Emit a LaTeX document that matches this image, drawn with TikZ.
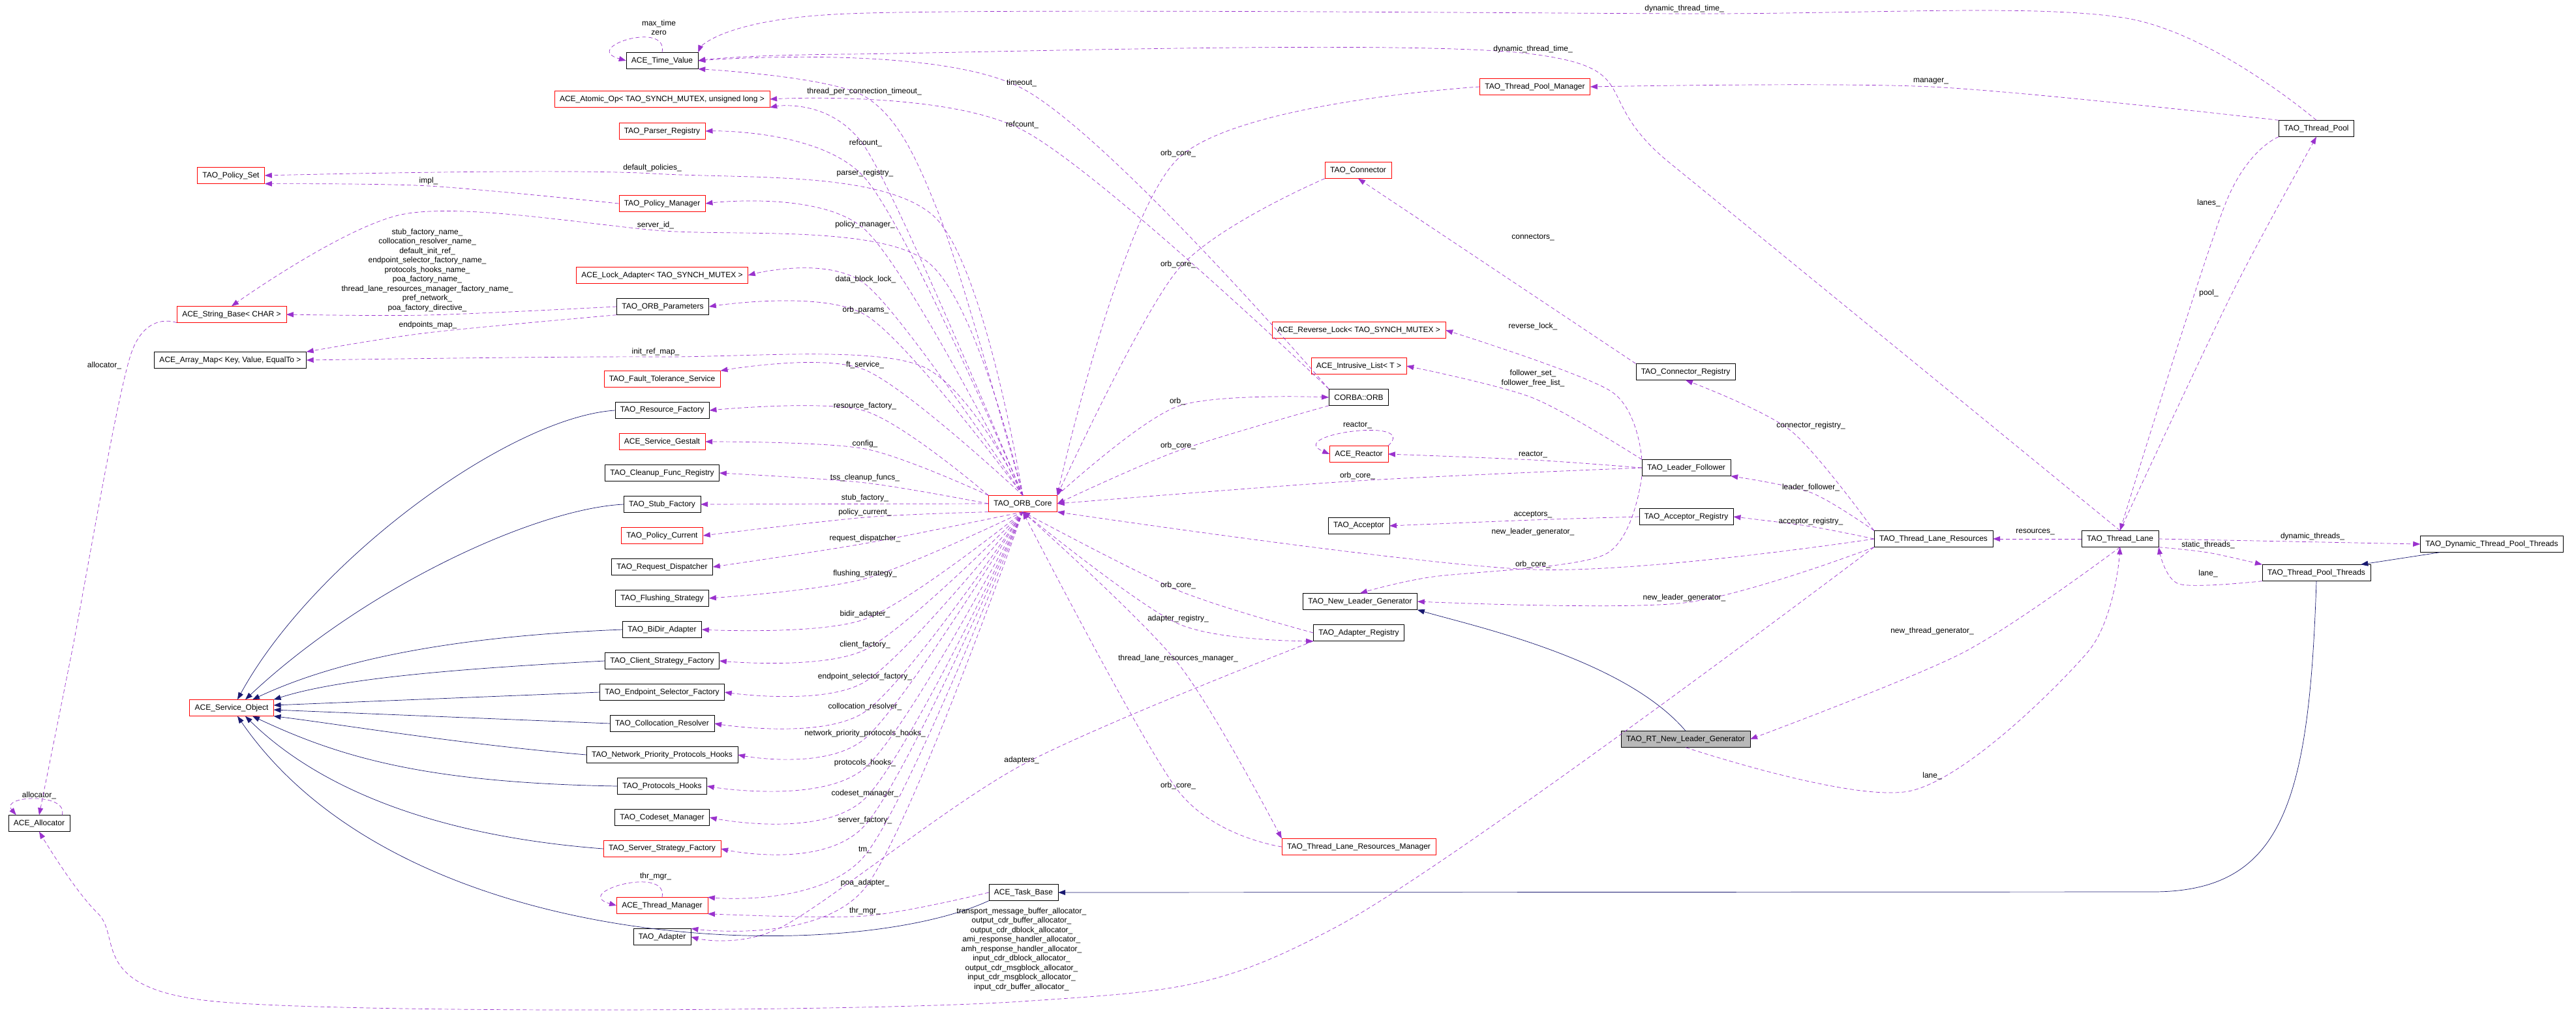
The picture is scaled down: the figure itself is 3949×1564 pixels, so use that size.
\documentclass[tikz,border=0pt]{standalone}
\usepackage{fontspec}
\setmainfont{Liberation Sans}
\usetikzlibrary{positioning,arrows.meta,calc}
\definecolor{edgepurple}{RGB}{154,50,205}
\definecolor{inhnavy}{RGB}{25,25,112}

\begin{document}
\begin{tikzpicture}[
      x=1pt, y=-1pt,
      font=\fontsize{12}{14}\selectfont
    ]

    \tikzstyle{cls} = [rectangle, draw=black, fill=white, minimum height=25pt, inner xsep=8pt, inner ysep=2pt]
    \tikzstyle{redcls} = [cls, draw=red]
    \tikzstyle{maincls} = [cls, fill=gray!55]
    \tikzstyle{mem} = [densely dashed, dash pattern=on 6pt off 4pt, edgepurple, line width=0.7pt, -{Triangle[length=11pt,width=8pt]}]
    \tikzstyle{inh} = [inhnavy, line width=0.7pt, -{Triangle[length=11pt,width=8pt]}]
    \tikzstyle{lbl} = [inner sep=0pt, align=center, font=\fontsize{12}{14.5}\selectfont]

    \useasboundingbox (0,0) rectangle (3949,1564);

    % left column
    \node [redcls] (polset) at (354,269) {TAO\_Policy\_Set};
    \node [redcls] (strbase) at (355,482) {ACE\_String\_Base< CHAR >};
    \node [cls] (arrmap) at (353,552) {ACE\_Array\_Map< Key, Value, EqualTo >};
    \node [redcls] (svcobj) at (355,1085) {ACE\_Service\_Object};
    \node [cls] (alloc) at (60,1262) {ACE\_Allocator};

    % members of the ORB core
    \node [cls] (tv) at (1015,93) {ACE\_Time\_Value};
    \node [redcls] (atomic) at (1015,152) {ACE\_Atomic\_Op< TAO\_SYNCH\_MUTEX, unsigned long >};
    \node [redcls] (parser) at (1015,201) {TAO\_Parser\_Registry};
    \node [redcls] (polmgr) at (1015,312) {TAO\_Policy\_Manager};
    \node [redcls] (lockad) at (1015,422) {ACE\_Lock\_Adapter< TAO\_SYNCH\_MUTEX >};
    \node [cls] (orbparams) at (1016,470) {TAO\_ORB\_Parameters};
    \node [redcls] (ftserv) at (1015,581) {TAO\_Fault\_Tolerance\_Service};
    \node [cls] (resfac) at (1015,629) {TAO\_Resource\_Factory};
    \node [redcls] (gestalt) at (1015,677) {ACE\_Service\_Gestalt};
    \node [cls] (cleanup) at (1015,725) {TAO\_Cleanup\_Func\_Registry};
    \node [cls] (stubfac) at (1015,773) {TAO\_Stub\_Factory};
    \node [redcls] (polcur) at (1015,821) {TAO\_Policy\_Current};
    \node [cls] (reqdisp) at (1015,869) {TAO\_Request\_Dispatcher};
    \node [cls] (flush) at (1015,917) {TAO\_Flushing\_Strategy};
    \node [cls] (bidir) at (1015,965) {TAO\_BiDir\_Adapter};
    \node [cls] (clientfac) at (1015,1013) {TAO\_Client\_Strategy\_Factory};
    \node [cls] (endpoint) at (1015,1061) {TAO\_Endpoint\_Selector\_Factory};
    \node [cls] (colloc) at (1015,1109) {TAO\_Collocation\_Resolver};
    \node [cls] (netprio) at (1015,1157) {TAO\_Network\_Priority\_Protocols\_Hooks};
    \node [cls] (prothooks) at (1015,1205) {TAO\_Protocols\_Hooks};
    \node [cls] (codeset) at (1015,1253) {TAO\_Codeset\_Manager};
    \node [redcls] (serverfac) at (1015,1301) {TAO\_Server\_Strategy\_Factory};
    \node [redcls] (thrmgr) at (1015,1388) {ACE\_Thread\_Manager};
    \node [cls] (adapter) at (1015,1436) {TAO\_Adapter};

    \node [redcls] (orbcore) at (1568,772) {TAO\_ORB\_Core};
    \node [cls] (taskbase) at (1569,1368) {ACE\_Task\_Base};

    % right half
    \node [redcls] (tpmgr) at (2353,133) {TAO\_Thread\_Pool\_Manager};
    \node [cls] (tpool) at (3551,197) {TAO\_Thread\_Pool};
    \node [redcls] (connector) at (2082,261) {TAO\_Connector};
    \node [redcls] (revlock) at (2083,506) {ACE\_Reverse\_Lock< TAO\_SYNCH\_MUTEX >};
    \node [redcls] (ilist) at (2083,561) {ACE\_Intrusive\_List< T >};
    \node [cls] (corbaorb) at (2083,609) {CORBA::ORB};
    \node [redcls] (reactor) at (2083,696) {ACE\_Reactor};
    \node [cls] (acceptor) at (2083,806) {TAO\_Acceptor};
    \node [cls] (nlg) at (2085,922) {TAO\_New\_Leader\_Generator};
    \node [cls] (adreg) at (2083,970) {TAO\_Adapter\_Registry};
    \node [redcls] (tlrm) at (2083,1298) {TAO\_Thread\_Lane\_Resources\_Manager};
    \node [cls] (connreg) at (2584,570) {TAO\_Connector\_Registry};
    \node [cls] (lf) at (2585,717) {TAO\_Leader\_Follower};
    \node [cls] (accreg) at (2585,792) {TAO\_Acceptor\_Registry};
    \node [cls] (tlr) at (2964,826) {TAO\_Thread\_Lane\_Resources};
    \node [cls] (tlane) at (3250,826) {TAO\_Thread\_Lane};
    \node [cls] (dyntpt) at (3820,834) {TAO\_Dynamic\_Thread\_Pool\_Threads};
    \node [cls] (tpt) at (3551,878) {TAO\_Thread\_Pool\_Threads};
    \node [maincls] (rtnlg) at (2584,1133) {TAO\_RT\_New\_Leader\_Generator};

    % inheritance
    \draw [inh] (resfac.west) .. controls (780,640) and (480,860) .. ($(svcobj.north)+(9,0)$);
    \draw [inh] (stubfac.west) .. controls (820,780) and (560,900) .. ($(svcobj.north)+(21,0)$);
    \draw [inh] (bidir.west) .. controls (700,975) and (520,1010) .. ($(svcobj.north)+(32,0)$);
    \draw [inh] (clientfac.west) .. controls (700,1025) and (520,1040) .. (svcobj.north east);
    \draw [inh] (endpoint.west) -- ($(svcobj.east)+(0,-4)$);
    \draw [inh] (colloc.west) -- ($(svcobj.east)+(0,3)$);
    \draw [inh] (netprio.west) .. controls (700,1140) and (520,1110) .. (svcobj.south east);
    \draw [inh] (prothooks.west) .. controls (650,1200) and (520,1160) .. ($(svcobj.south)+(32,0)$);
    \draw [inh] (serverfac.west) .. controls (650,1280) and (480,1200) .. ($(svcobj.south)+(21,0)$);
    \draw [inh] (taskbase.south west) .. controls (1300,1480) and (620,1470) .. ($(svcobj.south)+(9,0)$);
    \draw [inh] (tpt.south) .. controls (3540,1230) and (3500,1367) .. (3300,1367) -- (taskbase.east);
    \draw [inh] ($(dyntpt.south west)+(30,0)$) -- ($(tpt.north east)+(-15,0)$);
    \draw [inh] (rtnlg.north) .. controls (2490,1010) and (2260,960) .. (nlg.south east);

    % self references
    \draw [mem] (tv.north) .. controls +(10,-50) and +(-70,-20) .. (tv.west);
    \node [lbl] (tvself) at (1010,42) {max\_time\\zero};
    \draw [mem] (thrmgr.north) .. controls +(10,-50) and +(-70,-20) .. (thrmgr.west);
    \node [lbl] (thrself) at (1005,1343) {thr\_mgr\_};
    \draw [mem] (reactor.north east) .. controls +(50,-45) and +(-70,-30) .. (reactor.west);
    \node [lbl] (reactself) at (2081,652) {reactor\_};
    \draw [mem] ($(alloc.north east)+(-12,0)$) .. controls +(10,-35) and +(-25,-30) .. ($(alloc.north west)+(12,0)$);
    \node [lbl] (allocself) at (60,1219) {allocator\_};

    % ORB core members above it
    \draw [mem] plot[smooth] coordinates {(orbcore.north) (1440,330) (1326,148) (tv.south east)};
    \node [lbl] at (1325,140) {thread\_per\_connection\_timeout\_};
    \draw [mem] plot[smooth] coordinates {(orbcore.north) (1327,227) (atomic.south east)};
    \node [lbl] at (1327,219) {refcount\_};
    \draw [mem] plot[smooth] coordinates {(orbcore.north) (1326,273) (parser.east)};
    \node [lbl] at (1326,265) {parser\_registry\_};
    \draw [mem] plot[smooth] coordinates {(orbcore.north) (1430,330) (1000,266) (polset.east)};
    \node [lbl] at (1000,257) {default\_policies\_};
    \draw [mem] plot[smooth] coordinates {(orbcore.north) (1326,352) (polmgr.east)};
    \node [lbl] at (1326,344) {policy\_manager\_};
    \draw [mem] plot[smooth] coordinates {(orbcore.north) (1420,400) (1005,353) (620,328) (strbase.north)};
    \node [lbl] at (1005,345) {server\_id\_};
    \draw [mem] plot[smooth] coordinates {(orbcore.north) (1327,436) (lockad.east)};
    \node [lbl] at (1327,428) {data\_block\_lock\_};
    \draw [mem] plot[smooth] coordinates {(orbcore.north) (1327,483) (orbparams.east)};
    \node [lbl] at (1327,475) {orb\_params\_};
    \draw [mem] plot[smooth] coordinates {(orbcore.north) (1410,560) (1005,547) (arrmap.east)};
    \node [lbl] at (1005,539) {init\_ref\_map\_};
    \draw [mem] plot[smooth] coordinates {(orbcore.north) (1326,567) (ftserv.north east)};
    \node [lbl] at (1326,559) {ft\_service\_};
    \draw [mem] plot[smooth] coordinates {(orbcore.north west) (1326,630) (resfac.east)};
    \node [lbl] at (1326,622) {resource\_factory\_};
    \draw [mem] plot[smooth] coordinates {(orbcore.north west) (1326,688) (gestalt.east)};
    \node [lbl] at (1326,680) {config\_};
    \draw [mem] plot[smooth] coordinates {(orbcore.west) (1326,740) (cleanup.east)};
    \node [lbl] at (1326,732) {tss\_cleanup\_funcs\_};
    \draw [mem] (orbcore.west) -- (stubfac.east);
    \node [lbl] at (1326,763) {stub\_factory\_};

    % ORB core members below it
    \draw [mem] plot[smooth] coordinates {(orbcore.south west) (1326,793) (polcur.east)};
    \node [lbl] at (1326,785) {policy\_current\_};
    \draw [mem] plot[smooth] coordinates {(orbcore.south) (1326,833) (reqdisp.east)};
    \node [lbl] at (1326,825) {request\_dispatcher\_};
    \draw [mem] plot[smooth] coordinates {(orbcore.south) (1326,887) (flush.east)};
    \node [lbl] at (1326,879) {flushing\_strategy\_};
    \draw [mem] plot[smooth] coordinates {(orbcore.south) (1326,949) (bidir.east)};
    \node [lbl] at (1326,941) {bidir\_adapter\_};
    \draw [mem] plot[smooth] coordinates {(orbcore.south) (1326,996) (clientfac.east)};
    \node [lbl] at (1326,988) {client\_factory\_};
    \draw [mem] plot[smooth] coordinates {(orbcore.south) (1326,1045) (endpoint.east)};
    \node [lbl] at (1326,1037) {endpoint\_selector\_factory\_};
    \draw [mem] plot[smooth] coordinates {(orbcore.south) (1326,1091) (colloc.east)};
    \node [lbl] at (1326,1083) {collocation\_resolver\_};
    \draw [mem] plot[smooth] coordinates {(orbcore.south) (1326,1132) (netprio.east)};
    \node [lbl] at (1326,1124) {network\_priority\_protocols\_hooks\_};
    \draw [mem] plot[smooth] coordinates {(orbcore.south) (1326,1177) (prothooks.east)};
    \node [lbl] at (1326,1169) {protocols\_hooks\_};
    \draw [mem] plot[smooth] coordinates {(orbcore.south) (1326,1224) (codeset.east)};
    \node [lbl] at (1326,1216) {codeset\_manager\_};
    \draw [mem] plot[smooth] coordinates {(orbcore.south) (1326,1265) (serverfac.east)};
    \node [lbl] at (1326,1257) {server\_factory\_};
    \draw [mem] plot[smooth] coordinates {(orbcore.south) (1326,1311) (thrmgr.north east)};
    \node [lbl] at (1326,1303) {tm\_};
    \draw [mem] plot[smooth] coordinates {(orbcore.south) (1326,1361) (adapter.north east)};
    \node [lbl] at (1326,1353) {poa\_adapter\_};
    \draw [mem] plot[smooth] coordinates {(taskbase.west) (1326,1404) (thrmgr.south east)};
    \node [lbl] at (1326,1396) {thr\_mgr\_};
    \draw [mem] plot[smooth] coordinates {(adreg.south west) (1566,1173) (1200,1420) (adapter.east)};
    \node [lbl] at (1566,1165) {adapters\_};

    % left column among themselves
    \draw [mem] plot[smooth] coordinates {(polmgr.west) (657,285) (polset.south east)};
    \node [lbl] at (657,277) {impl\_};
    \draw [mem] plot[smooth] coordinates {(orbparams.west) (655,483) (strbase.east)};
    \node [lbl] at (655,414) {stub\_factory\_name\_\\collocation\_resolver\_name\_\\default\_init\_ref\_\\endpoint\_selector\_factory\_name\_\\protocols\_hooks\_name\_\\poa\_factory\_name\_\\thread\_lane\_resources\_manager\_factory\_name\_\\pref\_network\_\\poa\_factory\_directive\_};
    \draw [mem] plot[smooth] coordinates {(orbparams.south west) (656,510) (arrmap.north east)};
    \node [lbl] at (656,498) {endpoints\_map\_};
    \draw [mem] plot[smooth] coordinates {(strbase.south west) (200,545) (110,1000) (alloc.north)};
    \node [lbl] at (160,560) {allocator\_};
    \draw [mem] plot[smooth, tension=0.5] coordinates {(tlr.south west) (2050,1420) (1566,1535) (330,1535) (150,1400) (alloc.south)};
    \node [lbl] at (1566,1455) {transport\_message\_buffer\_allocator\_\\output\_cdr\_buffer\_allocator\_\\output\_cdr\_dblock\_allocator\_\\ami\_response\_handler\_allocator\_\\amh\_response\_handler\_allocator\_\\input\_cdr\_dblock\_allocator\_\\output\_cdr\_msgblock\_allocator\_\\input\_cdr\_msgblock\_allocator\_\\input\_cdr\_buffer\_allocator\_};

    % to the ORB core and CORBA::ORB
    \draw [mem] plot[smooth] coordinates {(tpmgr.west) (1806,243) (orbcore.north east)};
    \node [lbl] at (1806,235) {orb\_core\_};
    \draw [mem] plot[smooth] coordinates {(connector.south west) (1806,413) (orbcore.north east)};
    \node [lbl] at (1806,405) {orb\_core\_};
    \draw [mem] plot[smooth] coordinates {(orbcore.north east) (1805,623) (corbaorb.west)};
    \node [lbl] at (1805,615) {orb\_};
    \draw [mem] plot[smooth] coordinates {(corbaorb.south west) (1806,691) (orbcore.east)};
    \node [lbl] at (1806,683) {orb\_core\_};
    \draw [mem] plot[smooth] coordinates {(corbaorb.north west) (1566,135) (tv.east)};
    \node [lbl] at (1566,127) {timeout\_};
    \draw [mem] plot[smooth] coordinates {(corbaorb.north west) (1567,199) (atomic.east)};
    \node [lbl] at (1567,191) {refcount\_};
    \draw [mem] plot[smooth] coordinates {(lf.west) (2081,737) (orbcore.east)};
    \node [lbl] at (2081,729) {orb\_core\_};
    \draw [mem] plot[smooth] coordinates {(tlr.west) (2350,873) (orbcore.south east)};
    \node [lbl] at (2350,865) {orb\_core\_};
    \draw [mem] plot[smooth] coordinates {(adreg.west) (1806,905) (orbcore.south)};
    \node [lbl] at (1806,897) {orb\_core\_};
    \draw [mem] plot[smooth] coordinates {(orbcore.south) (1806,956) (adreg.south west)};
    \node [lbl] at (1806,948) {adapter\_registry\_};
    \draw [mem] plot[smooth] coordinates {(orbcore.south) (1806,1017) (tlrm.north west)};
    \node [lbl] at (1806,1009) {thread\_lane\_resources\_manager\_};
    \draw [mem] plot[smooth] coordinates {(tlrm.west) (1806,1212) (orbcore.south)};
    \node [lbl] at (1806,1204) {orb\_core\_};

    % thread pool side
    \draw [mem] plot[smooth] coordinates {(tpool.north) (3260,28) (2582,21) (1300,21) (tv.north east)};
    \node [lbl] at (2582,13) {dynamic\_thread\_time\_};
    \draw [mem] plot[smooth] coordinates {(tlane.north) (2560,250) (2350,83) (1300,83) (tv.east)};
    \node [lbl] at (2350,75) {dynamic\_thread\_time\_};
    \draw [mem] plot[smooth] coordinates {(tpool.north west) (2960,133) (tpmgr.east)};
    \node [lbl] at (2960,125) {manager\_};
    \draw [mem] plot[smooth] coordinates {(tpool.south west) (3412,311) (tlane.north)};
    \node [lbl] at (3386,311) {lanes\_};
    \draw [mem] plot[smooth] coordinates {(tlane.north) (3422,449) (tpool.south)};
    \node [lbl] at (3386,449) {pool\_};
    \draw [mem] (connreg.north west) -- (connector.south);
    \node [lbl] at (2350,364) {connectors\_};
    \draw [mem] plot[smooth] coordinates {(lf.north west) (2470,600) (revlock.east)};
    \node [lbl] at (2350,500) {reverse\_lock\_};
    \draw [mem] plot[smooth] coordinates {(lf.north west) (2350,610) (ilist.east)};
    \node [lbl] at (2350,580) {follower\_set\_\\follower\_free\_list\_};
    \draw [mem] plot[smooth] coordinates {(lf.west) (2350,705) (reactor.east)};
    \node [lbl] at (2350,697) {reactor\_};
    \draw [mem] plot[smooth] coordinates {(accreg.west) (2350,797) (acceptor.east)};
    \node [lbl] at (2350,789) {acceptors\_};
    \draw [mem] plot[smooth] coordinates {(lf.south west) (2460,850) (2190,885) (nlg.north)};
    \node [lbl] at (2350,815) {new\_leader\_generator\_};
    \draw [mem] plot[smooth] coordinates {(tlr.south west) (2582,924) (nlg.east)};
    \node [lbl] at (2582,916) {new\_leader\_generator\_};
    \draw [mem] plot[smooth] coordinates {(tlr.west) (2776,807) (accreg.east)};
    \node [lbl] at (2776,799) {acceptor\_registry\_};
    \draw [mem] plot[smooth] coordinates {(tlr.north west) (2745,660) (connreg.south)};
    \node [lbl] at (2776,652) {connector\_registry\_};
    \draw [mem] plot[smooth] coordinates {(tlr.north west) (2776,755) (lf.south east)};
    \node [lbl] at (2776,747) {leader\_follower\_};
    \draw [mem] (tlane.west) -- (tlr.east);
    \node [lbl] at (3120,815) {resources\_};
    \draw [mem] (tlane.east) -- (dyntpt.west);
    \node [lbl] at (3545,822) {dynamic\_threads\_};
    \draw [mem] plot[smooth] coordinates {(tlane.south east) (3385,847) (tpt.north west)};
    \node [lbl] at (3385,835) {static\_threads\_};
    \draw [mem] plot[smooth] coordinates {(tpt.south west) (3340,895) (tlane.south east)};
    \node [lbl] at (3385,879) {lane\_};
    \draw [mem] plot[smooth] coordinates {(tlane.south) (3010,1000) (rtnlg.east)};
    \node [lbl] at (2962,967) {new\_thread\_generator\_};
    \draw [mem] plot[smooth] coordinates {(rtnlg.south) (2930,1212) (3200,1000) (tlane.south)};
    \node [lbl] at (2962,1189) {lane\_};

\end{tikzpicture}
\end{document}
